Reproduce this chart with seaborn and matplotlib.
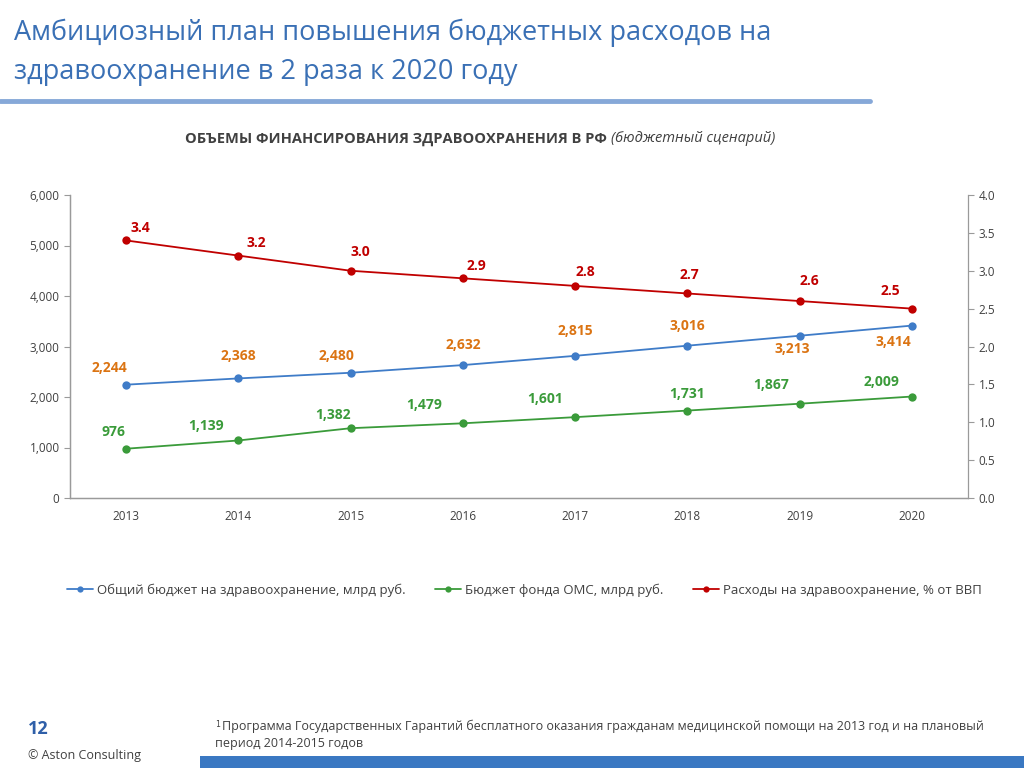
import matplotlib
matplotlib.use("Agg")
import matplotlib.pyplot as plt
import seaborn as sns
import pandas as pd
from matplotlib.ticker import FuncFormatter, MultipleLocator
from matplotlib.lines import Line2D

years = ["2013", "2014", "2015", "2016", "2017", "2018", "2019", "2020"]
total_budget = [2244, 2368, 2480, 2632, 2815, 3016, 3213, 3414]
oms_budget = [976, 1139, 1382, 1479, 1601, 1731, 1867, 2009]
gdp_share = [3.4, 3.2, 3.0, 2.9, 2.8, 2.7, 2.6, 2.5]

series_names = ["Общий бюджет на здравоохранение, млрд руб.",
                "Бюджет фонда ОМС, млрд руб.",
                "Расходы на здравоохранение, % от ВВП"]

sns.set_theme(style="white")
plt.rcParams['font.family'] = ['Open Sans', 'DejaVu Sans']

BLUE = "#3F7CC8"
GREEN = "#3A9B3A"
RED = "#C00000"
ORANGE = "#DB7413"
GRAYTXT = "#404040"
AXC = "#9A9A9A"

fig = plt.figure(figsize=(10.24, 7.68), dpi=100)
ax = fig.add_axes([70/1024, 1-498/768, (968-70)/1024, (498-195)/768])
ax2 = ax.twinx()

x = list(range(len(years)))
df = pd.DataFrame({"x": x, "total": total_budget, "oms": oms_budget, "gdp": gdp_share})

sns.lineplot(data=df, x="x", y="total", ax=ax, color=BLUE, marker="o", markersize=6,
             markeredgewidth=0, linewidth=1.3)
sns.lineplot(data=df, x="x", y="oms", ax=ax, color=GREEN, marker="o", markersize=6,
             markeredgewidth=0, linewidth=1.3)
sns.lineplot(data=df, x="x", y="gdp", ax=ax2, color=RED, marker="o", markersize=6,
             markeredgewidth=0, linewidth=1.3)

ax.set_xlim(-0.5, len(years) - 0.5)
ax.set_ylim(0, 6000)
ax2.set_ylim(0, 4.0)
ax.yaxis.set_major_locator(MultipleLocator(1000))
ax2.yaxis.set_major_locator(MultipleLocator(0.5))
ax.yaxis.set_major_formatter(FuncFormatter(lambda v, p: f"{int(v):,}"))
ax2.yaxis.set_major_formatter(FuncFormatter(lambda v, p: f"{v:.1f}"))
ax.set_xticks(x)
ax.set_xticklabels(years)
ax.set_xticks([i - 0.5 for i in range(len(years) + 1)], minor=True)
ax.tick_params(axis="x", which="major", length=0, pad=9, labelsize=8.5, labelcolor=GRAYTXT)
ax.tick_params(axis="x", which="minor", length=5, color=AXC, width=0.8, direction="out")
ax.tick_params(axis="y", length=4, color=AXC, width=0.8, labelsize=8.5, labelcolor=GRAYTXT, left=True)
ax2.tick_params(axis="y", length=4, color=AXC, width=0.8, labelsize=8.5, labelcolor=GRAYTXT, right=True)
ax.set_xlabel("")
ax.set_ylabel("")
ax2.set_ylabel("")
for a in (ax, ax2):
    for s in a.spines.values():
        s.set_color(AXC)
        s.set_linewidth(0.9)
    a.spines["top"].set_visible(False)
    a.grid(False)
ax.spines["right"].set_visible(False)

# data labels (offsets in pixels)
blue_off = [(-17, 17), (0, 22), (-14, 17), (0, 20), (0, 25), (0, 20), (-7, -13), (-18, -16)]
green_off = [(-13, 17), (-32, 14), (-18, 13), (-39, 18), (-30, 18), (0, 17), (-28, 19), (-30, 15)]
red_off = [(14, 12), (18, 13), (10, 19), (14, 12), (10, 14), (2, 18), (10, 20), (-22, 18)]

for i in x:
    ax.annotate(f"{total_budget[i]:,}", (i, total_budget[i]), xytext=blue_off[i],
                textcoords="offset pixels", ha="center", va="center",
                fontsize=10, fontweight="bold", color=ORANGE)
    ax.annotate(f"{oms_budget[i]:,}", (i, oms_budget[i]), xytext=green_off[i],
                textcoords="offset pixels", ha="center", va="center",
                fontsize=10, fontweight="bold", color=GREEN)
    ax2.annotate(f"{gdp_share[i]:.1f}", (i, gdp_share[i]), xytext=red_off[i],
                 textcoords="offset pixels", ha="center", va="center",
                 fontsize=10, fontweight="bold", color=RED)

# legend
handles = [Line2D([0], [0], color=c, marker="o", markersize=4.5, markeredgewidth=0, linewidth=1.3)
           for c in (BLUE, GREEN, RED)]
fig.legend(handles, series_names, loc="center", bbox_to_anchor=(0.512, 1-590/768), ncol=3,
           frameon=False, fontsize=9.5, handlelength=2.0, handletextpad=0.3, columnspacing=2.2,
           labelcolor=GRAYTXT)

# headings
fig.text(14/1024, 1-33/768, "Амбициозный план повышения бюджетных расходов на",
         fontsize=19.5, color="#3A70B5", ha="left", va="center")
fig.text(14/1024, 1-72/768, "здравоохранение в 2 раза к 2020 году",
         fontsize=19.5, color="#3A70B5", ha="left", va="center")
fig.add_artist(Line2D([0, 870/1024], [1-101/768, 1-101/768], color="#86A8D8", linewidth=3.5))

t1 = fig.text(0.0, 0.0, "ОБЪЕМЫ ФИНАНСИРОВАНИЯ ЗДРАВООХРАНЕНИЯ В РФ ", fontsize=10.5,
              fontweight="bold", color=GRAYTXT, ha="left", va="center")
t2 = fig.text(0.0, 0.0, "(бюджетный сценарий)", fontsize=10.5, style="italic",
              color=GRAYTXT, ha="left", va="center")
fig.canvas.draw()
r = fig.canvas.get_renderer()
w1 = t1.get_window_extent(r).width
w2 = t2.get_window_extent(r).width
start = 480 - (w1 + w2) / 2
t1.set_position((start / 1024, 1-139/768))
t2.set_position(((start + w1) / 1024, 1-139/768))

# footer
fig.text(28/1024, 1-729/768, "12", fontsize=13, fontweight="bold", color="#2F5FA8",
         ha="left", va="center")
fig.text(28/1024, 1-756/768, "© Aston Consulting", fontsize=9, color=GRAYTXT,
         ha="left", va="center")
fig.text(215/1024, 1-725/768, "$^1$", fontsize=8, color=GRAYTXT, ha="left", va="center")
fig.text(222/1024, 1-726/768,
         "Программа Государственных Гарантий бесплатного оказания гражданам медицинской помощи на 2013 год и на плановый",
         fontsize=9, color=GRAYTXT, ha="left", va="center")
fig.text(215/1024, 1-743/768, "период 2014-2015 годов", fontsize=9, color=GRAYTXT,
         ha="left", va="center")
fig.add_artist(plt.Rectangle((200/1024, 0), 824/1024, 12/768, color="#3A78C2",
                             transform=fig.transFigure, linewidth=0))

fig.savefig("out.png", dpi=100)
